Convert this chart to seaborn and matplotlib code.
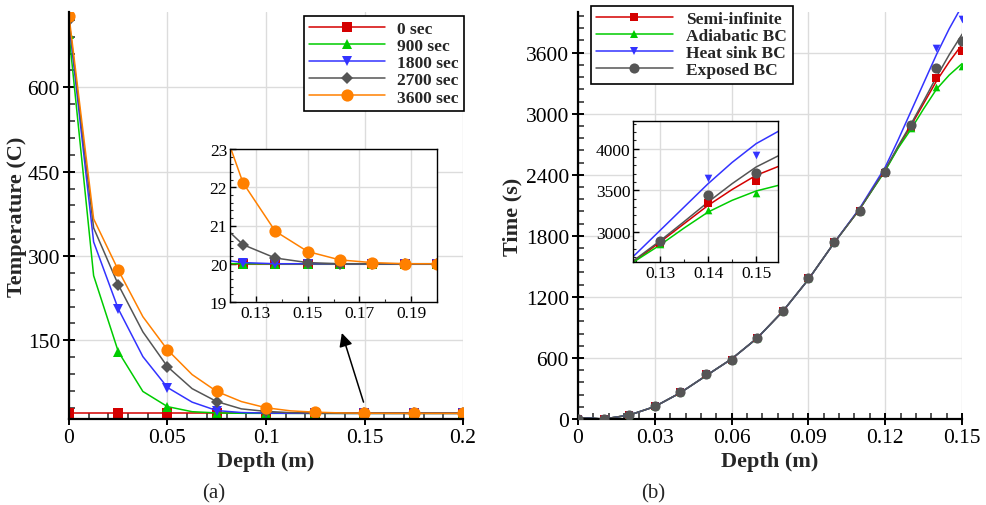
import matplotlib
matplotlib.use('Agg')
import matplotlib.pyplot as plt
import seaborn as sns
from matplotlib.lines import Line2D
from matplotlib.ticker import MultipleLocator, FixedLocator, FuncFormatter

sns.set_style('white')
plt.rcParams['font.family'] = ['Liberation Serif', 'DejaVu Serif']

# ---------------- data (a) ----------------
depth_a = [0.0, 0.0125, 0.025, 0.0375, 0.05, 0.0625, 0.075, 0.0875, 0.1,
           0.1125, 0.125, 0.1375, 0.15, 0.1625, 0.175, 0.1875, 0.2]
labels_a = ['0 sec', '900 sec', '1800 sec', '2700 sec', '3600 sec']
temp_0s = [20.0, 20.0, 20.0, 20.0, 20.0, 20.0, 20.0, 20.0, 20.0,
           20.0, 20.0, 20.0, 20.0, 20.0, 20.0, 20.0, 20.0]
temp_900s = [695, 265, 130, 59, 32, 23, 20.8, 20.2, 20.05,
             20.01, 20.0, 20.0, 20.0, 20.0, 20.0, 20.0, 20.0]
temp_1800s = [715, 325, 206, 121, 66, 40, 25, 21.5, 20.5,
              20.15, 20.03, 20.0, 20.0, 20.0, 20.0, 20.0, 20.0]
temp_2700s = [720, 350, 249, 165, 103, 64, 41, 28, 23.5,
              21.3, 20.5, 20.15, 20.03, 20.0, 20.0, 20.0, 20.0]
temp_3600s = [727, 366, 275, 192, 133, 89, 59, 41, 30,
              24.5, 22.12, 20.85, 20.32, 20.1, 20.03, 20.0, 20.0]
series_a = [temp_0s, temp_900s, temp_1800s, temp_2700s, temp_3600s]
colors_a = ['#d40000', '#00cc00', '#3333ff', '#555555', '#ff8000']
markers_a = ['s', '^', 'v', 'D', 'o']
msize_a = [7, 7.5, 7.5, 6.5, 8.8]

# ---------------- data (b) ----------------
labels_b = ['Semi-infinite', 'Adiabatic BC', 'Heat sink BC', 'Exposed BC']
depth_b = [0.00, 0.01, 0.02, 0.03, 0.04, 0.05, 0.06, 0.07, 0.08, 0.09,
           0.10, 0.11, 0.12, 0.13, 0.14, 0.15]
time_semi = [0, 0, 42, 131, 262, 442, 580, 793, 1061, 1382,
             1742, 2047, 2420, 2865, 3348, 3612]
time_adiabatic = [0, 0, 42, 131, 262, 442, 580, 793, 1061, 1382,
                  1742, 2047, 2425, 2860, 3260, 3472]
time_heatsink = [0, 0, 42, 131, 262, 442, 580, 793, 1061, 1382,
                 1742, 2047, 2430, 2885, 3648, 3928]
time_exposed = [0, 0, 42, 131, 262, 442, 580, 793, 1061, 1382,
                1742, 2047, 2430, 2888, 3448, 3712]

depth_fit = [0.0, 0.01, 0.02, 0.03, 0.04, 0.05, 0.06, 0.07, 0.08, 0.09,
             0.10, 0.11, 0.12, 0.125, 0.13, 0.135, 0.14, 0.145, 0.15, 0.155]
fit_semi = [15, 0, 38, 122, 258, 425, 590, 795, 1058, 1372,
            1730, 2062, 2450, 2665, 2880, 3100, 3320, 3510, 3680, 3795]
fit_adiabatic = [15, 0, 38, 122, 258, 425, 590, 795, 1058, 1372,
                 1730, 2062, 2440, 2660, 2845, 3048, 3240, 3380, 3492, 3565]
fit_heatsink = [15, 0, 38, 122, 258, 425, 590, 795, 1058, 1372,
                1730, 2070, 2475, 2740, 3020, 3300, 3580, 3835, 4060, 4220]
fit_exposed = [15, 0, 38, 122, 258, 425, 590, 795, 1058, 1372,
               1730, 2062, 2450, 2680, 2895, 3125, 3360, 3580, 3780, 3925]
points_b = [time_semi, time_adiabatic, time_heatsink, time_exposed]
fits_b = [fit_semi, fit_adiabatic, fit_heatsink, fit_exposed]
colors_b = ['#d40000', '#00cc00', '#3333ff', '#555555']
markers_b = ['s', '^', 'v', 'o']
msize_b = [5.5, 5.5, 5.5, 7.3]

W, H = 987, 506
fig = plt.figure(figsize=(W / 100, H / 100), dpi=100)


def fx(px):
    return px / W


def fy(py):
    return 1 - py / H


def gfmt(v, pos):
    return ('%g' % v)


def style_main(ax):
    for s in ['top', 'right']:
        ax.spines[s].set_visible(False)
    for s in ['left', 'bottom']:
        ax.spines[s].set_linewidth(1.6)
        ax.spines[s].set_color('black')
    ax.grid(True, which='major', color='#dcdcdc', lw=1)
    ax.set_axisbelow(True)
    ax.tick_params(which='major', direction='inout', length=9, width=1.4,
                   labelsize=15.5, pad=2, colors='black', left=True, bottom=True)
    ax.tick_params(which='minor', direction='in', length=4.5, width=1.1,
                   left=True, bottom=True)
    ax.xaxis.set_major_formatter(FuncFormatter(gfmt))
    ax.yaxis.set_major_formatter(FuncFormatter(gfmt))


def style_inset(ax):
    for s in ['top', 'right', 'left', 'bottom']:
        ax.spines[s].set_visible(True)
        ax.spines[s].set_linewidth(1.0)
        ax.spines[s].set_color('black')
    ax.set_facecolor('white')
    ax.grid(True, which='major', color='#dcdcdc', lw=1)
    ax.set_axisbelow(True)
    ax.tick_params(which='major', direction='in', length=4, width=1.0,
                   labelsize=12.5, pad=2, colors='black', left=True, bottom=True)
    ax.tick_params(which='minor', direction='in', length=2.5, width=0.8,
                   left=True, bottom=True)
    ax.xaxis.set_major_formatter(FuncFormatter(gfmt))
    ax.yaxis.set_major_formatter(FuncFormatter(gfmt))


# ================= panel (a) =================
ax1 = fig.add_axes([fx(69), fy(420), fx(463 - 69), (420 - 13) / H])
style_main(ax1)
for y, lab, c, m, ms in zip(series_a, labels_a, colors_a, markers_a, msize_a):
    sns.lineplot(x=depth_a, y=y, ax=ax1, color=c, lw=1.1, marker=m, markersize=ms,
                 markeredgewidth=0, markevery=2, label=lab, sort=False)
ax1.set_xlim(0, 0.2)
ax1.set_ylim(10, 734)
ax1.xaxis.set_major_locator(MultipleLocator(0.05))
ax1.xaxis.set_minor_locator(MultipleLocator(0.01))
ax1.yaxis.set_major_locator(FixedLocator([150, 300, 450, 600]))
ax1.yaxis.set_minor_locator(MultipleLocator(30))
ax1.set_xlabel('Depth (m)', fontsize=16, fontweight='bold', labelpad=3)
ax1.set_ylabel('Temperature (C)', fontsize=16, fontweight='bold')
ax1.yaxis.set_label_coords((27 - 69) / 394, 0.5)
leg1 = ax1.legend(loc='upper right', bbox_to_anchor=(1.003, 0.99), frameon=True,
                  fancybox=False, edgecolor='black', framealpha=1,
                  prop={'weight': 'bold', 'size': 12.5}, handlelength=4.4,
                  handletextpad=0.7, labelspacing=0.05, borderpad=0.3,
                  borderaxespad=0)
leg1.get_frame().set_linewidth(1.2)
ax1.annotate('', xy=(0.1385, 163), xytext=(0.1495, 40),
             arrowprops=dict(arrowstyle='-|>', color='black', lw=1.1,
                             mutation_scale=20, shrinkA=0, shrinkB=0))

ins1 = fig.add_axes([fx(230), fy(303), fx(207), 153 / H])
style_inset(ins1)
for y, c, m, ms in zip(series_a, colors_a, markers_a, msize_a):
    sns.lineplot(x=depth_a, y=y, ax=ins1, color=c, lw=1.1, marker=m, markersize=ms,
                 markeredgewidth=0, sort=False)
ins1.set_xlim(0.12, 0.2)
ins1.set_ylim(19, 23)
ins1.xaxis.set_major_locator(FixedLocator([0.13, 0.15, 0.17, 0.19]))
ins1.xaxis.set_minor_locator(MultipleLocator(0.01))
ins1.yaxis.set_major_locator(MultipleLocator(1))
ins1.yaxis.set_minor_locator(MultipleLocator(0.2))
ins1.set_xlabel('')
ins1.set_ylabel('')

# ================= panel (b) =================
ax2 = fig.add_axes([fx(578), fy(420), fx(962 - 578), (420 - 13) / H])
style_main(ax2)
for f, c in zip(fits_b, colors_b):
    sns.lineplot(x=depth_fit, y=f, ax=ax2, color=c, lw=1.1, sort=False)
for p, c, m, ms in zip(points_b, colors_b, markers_b, msize_b):
    sns.scatterplot(x=depth_b, y=p, ax=ax2, color=c, marker=m, s=(ms * 1.0) ** 2,
                    linewidth=0, zorder=3)
ax2.set_xlim(0, 0.15)
ax2.set_ylim(0, 4000)
ax2.xaxis.set_major_locator(MultipleLocator(0.03))
ax2.xaxis.set_minor_locator(MultipleLocator(0.006))
ax2.yaxis.set_major_locator(MultipleLocator(600))
ax2.yaxis.set_minor_locator(MultipleLocator(120))
ax2.set_xlabel('Depth (m)', fontsize=16, fontweight='bold', labelpad=3)
ax2.set_ylabel('Time (s)', fontsize=16, fontweight='bold')
ax2.yaxis.set_label_coords((522 - 578) / 384, 0.5)
handles_b = [Line2D([], [], color=c, lw=1.1, marker=m, markersize=ms,
                    markeredgewidth=0)
             for c, m, ms in zip(colors_b, markers_b, msize_b)]
leg2 = ax2.legend(handles_b, labels_b, loc='upper left',
                  bbox_to_anchor=(13 / 384, 1.015), frameon=True,
                  fancybox=False, edgecolor='black', framealpha=1,
                  prop={'weight': 'bold', 'size': 12.5}, handlelength=4.4,
                  handletextpad=0.8, labelspacing=0.05, borderpad=0.3,
                  borderaxespad=0)
leg2.get_frame().set_linewidth(1.2)

ins2 = fig.add_axes([fx(633.3), fy(263), fx(144.4), 141 / H])
style_inset(ins2)
for f, c in zip(fits_b, colors_b):
    sns.lineplot(x=depth_fit, y=f, ax=ins2, color=c, lw=1.1, sort=False)
for p, c, m, ms in zip(points_b, colors_b, markers_b, msize_b):
    sns.scatterplot(x=depth_b, y=p, ax=ins2, color=c, marker=m, s=(ms * 1.0) ** 2,
                    linewidth=0, zorder=3)
ins2.set_xlim(0.1244, 0.1545)
ins2.set_ylim(2640, 4332)
ins2.xaxis.set_major_locator(FixedLocator([0.13, 0.14, 0.15]))
ins2.xaxis.set_minor_locator(MultipleLocator(0.005))
ins2.yaxis.set_major_locator(FixedLocator([3000, 3500, 4000]))
ins2.yaxis.set_minor_locator(MultipleLocator(100))
ins2.set_xlabel('')
ins2.set_ylabel('')

fig.text(fx(214), fy(494), '(a)', ha='center', va='center', fontsize=15)
fig.text(fx(653), fy(494), '(b)', ha='center', va='center', fontsize=15)

fig.savefig('out.png', dpi=100)
